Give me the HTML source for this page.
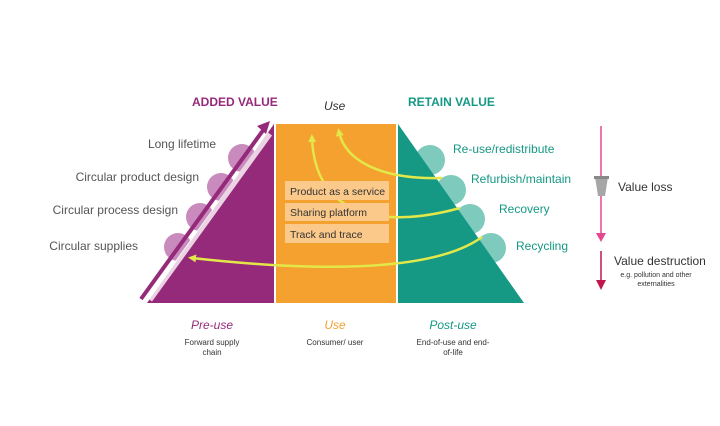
<!DOCTYPE html><html><head><style>body{margin:0;background:#fff}svg{display:block}text{font-family:"Liberation Sans",sans-serif}</style></head><body>
<svg width="720" height="426" viewBox="0 0 720 426">
<defs>
<marker id="ya" markerWidth="8" markerHeight="8" refX="4" refY="4" orient="auto" markerUnits="userSpaceOnUse"><path d="M0,0 L8,4 L0,8 z" fill="#e3e84a"/></marker>
</defs>
<circle cx="242" cy="158" r="14" fill="#c98bbd"/>
<circle cx="221" cy="187" r="14" fill="#c98bbd"/>
<circle cx="200" cy="217" r="14" fill="#c98bbd"/>
<circle cx="178" cy="247" r="14" fill="#c98bbd"/>
<circle cx="430" cy="160" r="15" fill="#7ecbbe"/>
<circle cx="451" cy="190" r="15" fill="#7ecbbe"/>
<circle cx="470" cy="219" r="15" fill="#7ecbbe"/>
<circle cx="491" cy="248" r="15" fill="#7ecbbe"/>
<polygon points="147,303 274,124 274,303" fill="#962a7a"/>
<rect x="276" y="124" width="120" height="179" fill="#f5a12f"/>
<polygon points="398,124 398,303 524,303" fill="#159884"/>
<line x1="150" y1="300" x2="270" y2="134" stroke="#fff" stroke-width="5" opacity=".8"/>
<line x1="141" y1="299" x2="264" y2="129" stroke="#962a7a" stroke-width="4"/>
<polygon points="270,121 257,126 266,134" fill="#962a7a"/>
<g fill="none" stroke="#e3e84a" stroke-width="2.5">
<path d="M442,178 C380,180 345,160 339,132" marker-end="url(#ya)"/>
<path d="M460,208 C380,230 315,215 312,138" marker-end="url(#ya)"/>
<path d="M482,237 C430,275 300,270 192,258" marker-end="url(#ya)"/>
</g>
<rect x="285" y="181" width="104" height="19" fill="#fbc98a"/>
<rect x="285" y="203" width="104" height="18" fill="#fbc98a"/>
<rect x="285" y="224" width="104" height="19" fill="#fbc98a"/>
<text x="290" y="195" font-size="10.5" fill="#333">Product as a service</text>
<text x="290" y="216" font-size="10.5" fill="#333">Sharing platform</text>
<text x="290" y="238" font-size="10.5" fill="#333">Track and trace</text>
<text x="192" y="106" font-size="12" font-weight="bold" fill="#962a7a">ADDED VALUE</text>
<text x="324" y="110" font-size="12" font-style="italic" fill="#333">Use</text>
<text x="408" y="106" font-size="12" font-weight="bold" fill="#159884">RETAIN VALUE</text>
<g font-size="12" fill="#555" text-anchor="end">
<text x="216" y="148">Long lifetime</text>
<text x="199" y="181">Circular product design</text>
<text x="178" y="214">Circular process design</text>
<text x="138" y="250">Circular supplies</text>
</g>
<g font-size="12" fill="#159884">
<text x="453" y="153">Re-use/redistribute</text>
<text x="471" y="183">Refurbish/maintain</text>
<text x="499" y="213">Recovery</text>
<text x="516" y="250">Recycling</text>
</g>
<line x1="601" y1="126" x2="601" y2="234" stroke="#e5478f" stroke-width="1.5"/>
<polygon points="596,233 606,233 601,242" fill="#e5478f"/>
<polygon points="595,177 608,177 605,196 598,196" fill="#a6a6a6"/>
<rect x="594" y="176" width="15" height="3" fill="#888"/>
<text x="618" y="191" font-size="12" fill="#333">Value loss</text>
<line x1="601" y1="251" x2="601" y2="282" stroke="#c0184e" stroke-width="1.5"/>
<polygon points="596,280 606,280 601,290" fill="#c0184e"/>
<text x="614" y="265" font-size="12" fill="#333">Value destruction</text>
<text x="656" y="277" font-size="7" fill="#333" text-anchor="middle">e.g. pollution and other</text>
<text x="656" y="286" font-size="7" fill="#333" text-anchor="middle">externalities</text>
<text x="212" y="329" font-size="12" font-style="italic" fill="#962a7a" text-anchor="middle">Pre-use</text>
<text x="212" y="345" font-size="8" fill="#333" text-anchor="middle">Forward supply</text>
<text x="212" y="355" font-size="8" fill="#333" text-anchor="middle">chain</text>
<text x="335" y="329" font-size="12" font-style="italic" fill="#f5a12f" text-anchor="middle">Use</text>
<text x="335" y="345" font-size="8" fill="#333" text-anchor="middle">Consumer/ user</text>
<text x="453" y="329" font-size="12" font-style="italic" fill="#159884" text-anchor="middle">Post-use</text>
<text x="453" y="345" font-size="8" fill="#333" text-anchor="middle">End-of-use and end-</text>
<text x="453" y="355" font-size="8" fill="#333" text-anchor="middle">of-life</text>
</svg></body></html>
